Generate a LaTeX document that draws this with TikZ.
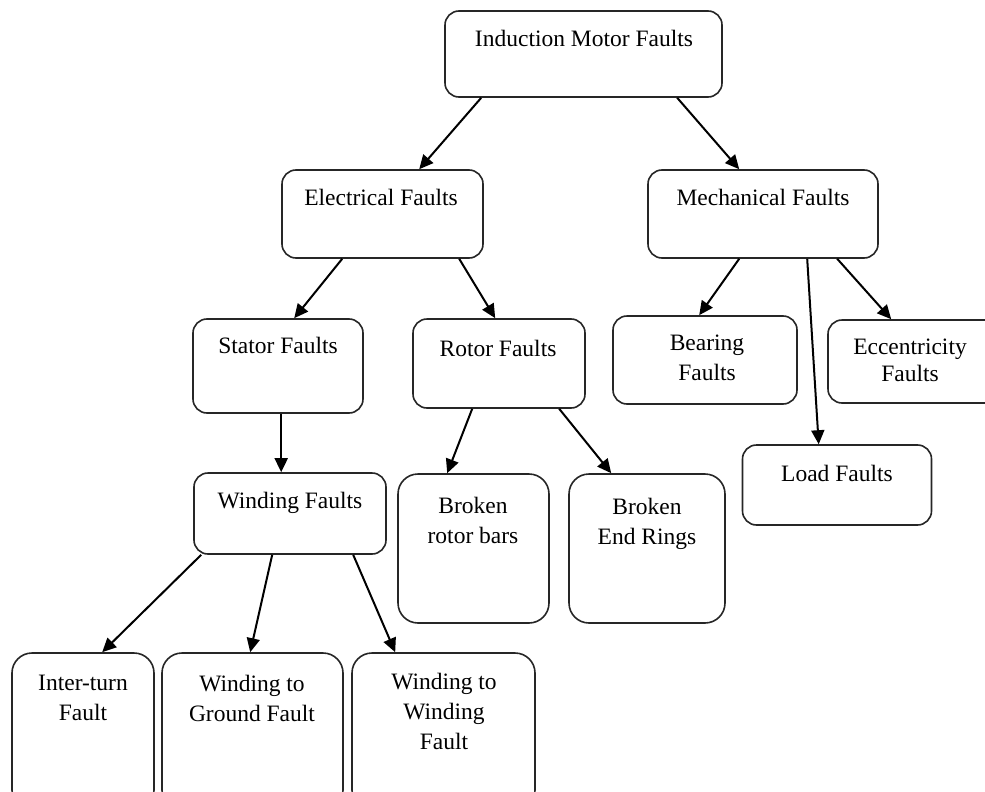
\documentclass[tikz,border=0pt]{standalone}
\usepackage{fontspec}
\setmainfont{Liberation Serif}
\usetikzlibrary{arrows.meta}
\begin{document}
\begin{tikzpicture}[x=1pt,y=-1pt,
  box/.style={draw=black!85, line width=1.6pt, rounded corners=14pt, inner sep=0pt},
  tallbox/.style={box, rounded corners=20pt},
  lbl/.style={font=\fontsize{23.5}{30}\selectfont, align=center, inner sep=0pt, anchor=north},
  arr/.style={-{Triangle[length=14pt,width=13pt]}, line width=2pt, black}]
\clip (0,0) rectangle (985,792);
\fill[white] (0,0) rectangle (985,792);

% level 0
\node[box, minimum width=277pt, minimum height=86pt] (imf) at (583.5,54) {};
\node[lbl] (imf-t) at (584,30) {Induction Motor Faults};

% level 1
\node[box, minimum width=201pt, minimum height=88pt] (elec) at (382.5,214) {};
\node[lbl] (elec-t) at (381,189) {Electrical Faults};
\node[box, minimum width=230pt, minimum height=88pt] (mech) at (763,214) {};
\node[lbl] (mech-t) at (763,189) {Mechanical Faults};

% level 2
\node[box, minimum width=170pt, minimum height=94pt] (stator) at (278,366) {};
\node[lbl] (stator-t) at (278,337) {Stator Faults};
\node[box, minimum width=172pt, minimum height=89pt] (rotor) at (499,363.5) {};
\node[lbl] (rotor-t) at (498,340) {Rotor Faults};
\node[box, minimum width=184pt, minimum height=88pt] (bearing) at (705,360) {};
\node[lbl] (bearing-t) at (707,335) {Bearing\\Faults};
\node[box, minimum width=177pt, minimum height=83pt] (ecc) at (916.5,361.5) {};
\node[lbl] (ecc-t) at (910,339) {Eccentricity\\[-3pt]Faults};
\node[box, minimum width=189pt, minimum height=80pt] (load) at (837,485) {};
\node[lbl] (load-t) at (837,465) {Load Faults};

% level 3
\node[box, minimum width=192pt, minimum height=81pt] (winding) at (290,513.5) {};
\node[lbl] (winding-t) at (290,492) {Winding Faults};
\node[tallbox, minimum width=151pt, minimum height=149pt] (brb) at (473.5,548.5) {};
\node[lbl] (brb-t) at (473,497) {Broken\\rotor bars};
\node[tallbox, minimum width=156pt, minimum height=149pt] (ber) at (647,548.5) {};
\node[lbl] (ber-t) at (647,498) {Broken\\End Rings};

% level 4
\node[tallbox, minimum width=142pt, minimum height=157pt] (inter) at (83,731.5) {};
\node[lbl] (inter-t) at (83,675) {Inter-turn\\Fault};
\node[tallbox, minimum width=181pt, minimum height=157pt] (ground) at (252.5,731.5) {};
\node[lbl] (ground-t) at (252,675) {Winding to\\Ground Fault};
\node[tallbox, minimum width=183pt, minimum height=157pt] (w2w) at (443.5,731.5) {};
\node[lbl] (w2w-t) at (444,673) {Winding to\\Winding\\Fault};

% connectors
\draw[arr] ([xshift=37pt]imf.south west) -- ([xshift=138pt]elec.north west);
\draw[arr] ([xshift=233pt]imf.south west) -- ([xshift=92pt]mech.north west);
\draw[arr] ([xshift=61pt]elec.south west) -- ([xshift=102pt]stator.north west);
\draw[arr] ([xshift=178pt]elec.south west) -- ([xshift=83pt]rotor.north west);
\draw[arr] ([xshift=89pt]stator.south west) -- ([xshift=88pt]winding.north west);
\draw[arr] ([xshift=92pt]mech.south west) -- ([xshift=87pt]bearing.north west);
\draw[arr] ([xshift=160pt]mech.south west) -- ([xshift=77pt]load.north west);
\draw[arr] ([xshift=190pt]mech.south west) -- ([xshift=64pt]ecc.north west);
\draw[arr] ([xshift=60pt]rotor.south west) -- ([xshift=50pt]brb.north west);
\draw[arr] ([xshift=147pt]rotor.south west) -- ([xshift=43pt]ber.north west);
\draw[arr] ([xshift=8pt]winding.south west) -- ([xshift=91pt]inter.north west);
\draw[arr] ([xshift=79pt]winding.south west) -- ([xshift=89pt]ground.north west);
\draw[arr] ([xshift=160pt]winding.south west) -- ([xshift=44pt]w2w.north west);
\end{tikzpicture}
\end{document}
